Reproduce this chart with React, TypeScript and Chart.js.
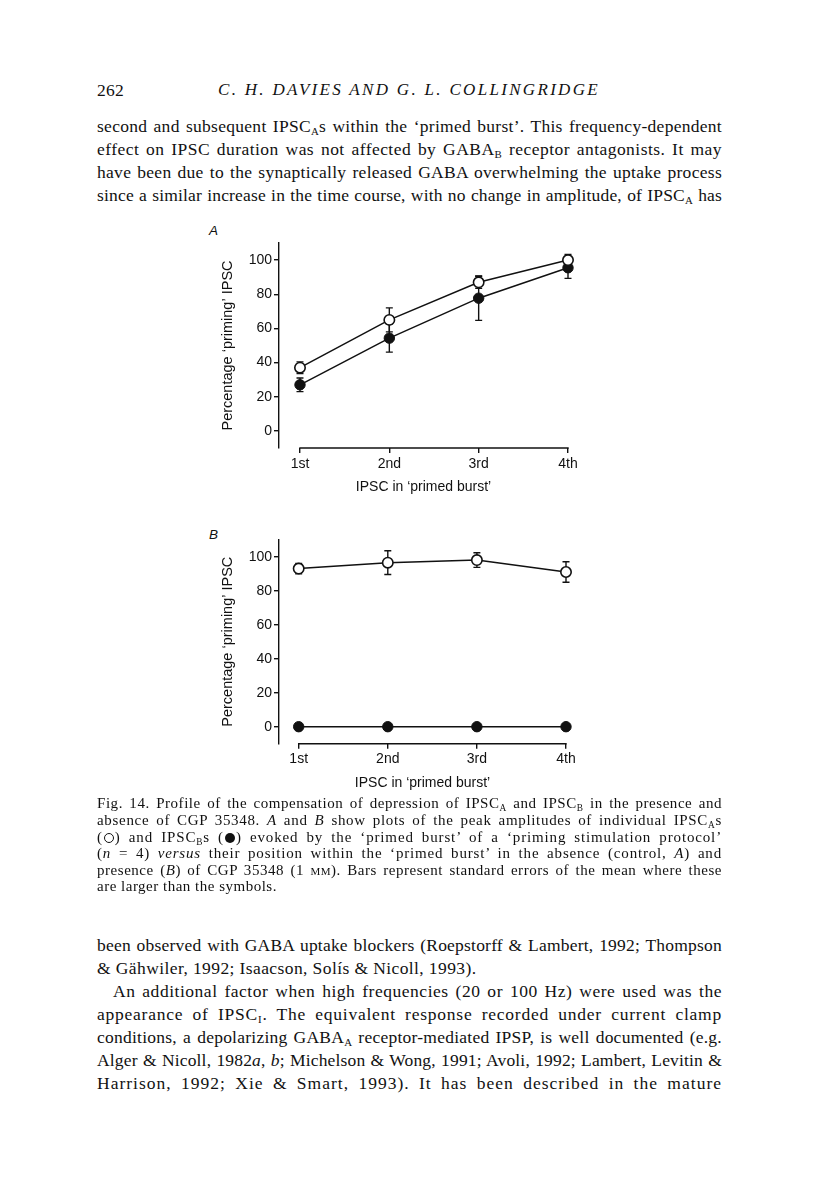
import React, { useEffect, useLayoutEffect, useRef } from "react";
import { Chart, registerables } from "chart.js";

Chart.register(...registerables);

// ---------- data ----------
const categories = ["1st", "2nd", "3rd", "4th"];
const yTickValues = [0, 20, 40, 60, 80, 100];

const panelAOpen = [37, 65, 87, 100];
const panelAOpenErr = [3.4, 7, 3.5, 3.3];
const panelAFilled = [27, 54.3, 77.7, 95.5];
const panelAFilledErr = [4, 8.2, 13, 6.2];

const panelBOpen = [93, 96.5, 98, 91];
const panelBOpenErr = [3, 7, 4.3, 6];
const panelBFilled = [0, 0, 0, 0];
const panelBFilledErr = [0, 0, 0, 0];

const yAxisTitle = "Percentage \u2018priming\u2019 IPSC";
const xAxisTitle = "IPSC in \u2018primed burst\u2019";

const SANS = "'Liberation Sans', Arial, Helvetica, sans-serif";
const SERIF = "'Liberation Serif', 'Times New Roman', serif";
const INK = "#111";

const errAxisPlugin = {
  id: "errAxis",
  beforeDatasetsDraw(chart: any) {
    const { ctx, chartArea } = chart;
    const x = chart.scales.x;
    const y = chart.scales.y;
    ctx.save();
    ctx.strokeStyle = INK;
    ctx.lineWidth = 1.4;
    const x0 = x.getPixelForValue(0);
    const x1 = x.getPixelForValue(categories.length - 1);
    ctx.beginPath();
    ctx.moveTo(x0 - 0.7, chartArea.bottom);
    ctx.lineTo(x1 + 0.7, chartArea.bottom);
    ctx.stroke();
    chart.data.datasets.forEach((ds: any) => {
      const errs = ds.errors;
      if (!errs) return;
      ds.data.forEach((p: any, i: number) => {
        const e = errs[i];
        if (!e) return;
        const px = x.getPixelForValue(p.x);
        const t = y.getPixelForValue(p.y + e);
        const b = y.getPixelForValue(p.y - e);
        ctx.beginPath();
        ctx.moveTo(px, t);
        ctx.lineTo(px, b);
        ctx.moveTo(px - 3.5, t);
        ctx.lineTo(px + 3.5, t);
        ctx.moveTo(px - 3.5, b);
        ctx.lineTo(px + 3.5, b);
        ctx.stroke();
      });
    });
    ctx.restore();
  },
};

type PanelProps = {
  left: number;
  top: number;
  width: number;
  height: number;
  areaLeft: number;
  areaTop: number;
  areaBottom: number;
  padRight: number;
  xMin: number;
  tickPad: number;
  open: number[];
  openErr: number[];
  filled: number[];
  filledErr: number[];
};

function Panel(props: PanelProps) {
  const ref = useRef<HTMLCanvasElement | null>(null);
  useEffect(() => {
    if (!ref.current) return;
    const toPts = (arr: number[]) => arr.map((v, i) => ({ x: i, y: v }));
    const chart = new Chart(ref.current, {
      type: "line",
      data: {
        datasets: [
          {
            data: toPts(props.open),
            errors: props.openErr,
            borderColor: INK,
            borderWidth: 1.5,
            pointRadius: 5.2,
            pointBorderWidth: 1.6,
            pointBackgroundColor: "#fff",
            pointBorderColor: INK,
            clip: false,
          } as any,
          {
            data: toPts(props.filled),
            errors: props.filledErr,
            borderColor: INK,
            borderWidth: 1.5,
            pointRadius: 5.2,
            pointBorderWidth: 1,
            pointBackgroundColor: INK,
            pointBorderColor: INK,
            clip: false,
          } as any,
        ],
      },
      options: {
        animation: false,
        responsive: false,
        devicePixelRatio: 1,
        events: [],
        layout: { padding: { top: props.areaTop, right: props.padRight, left: 0, bottom: 0 } },
        plugins: { legend: { display: false }, tooltip: { enabled: false } },
        scales: {
          x: {
            type: "linear",
            min: props.xMin,
            max: categories.length - 1,
            afterBuildTicks: (s: any) => {
              s.ticks = categories.map((_, i) => ({ value: i }));
            },
            afterFit: (s: any) => {
              s.height = props.height - props.areaBottom;
            },
            ticks: {
              callback: (v: any) => categories[v as number] ?? "",
              font: { family: SANS, size: 14 },
              color: INK,
              padding: props.tickPad,
              maxRotation: 0,
              autoSkip: false,
            },
            grid: { drawOnChartArea: false, drawTicks: true, tickLength: 5, color: INK, lineWidth: 1.4 },
            border: { display: false },
            title: {
              display: true,
              text: xAxisTitle,
              font: { family: SANS, size: 14 },
              color: INK,
              padding: { top: 0, bottom: 14.6 },
            },
          },
          y: {
            type: "linear",
            min: -10,
            max: 110,
            afterBuildTicks: (s: any) => {
              s.ticks = yTickValues.map((v) => ({ value: v }));
            },
            afterFit: (s: any) => {
              s.width = props.areaLeft;
            },
            ticks: { font: { family: SANS, size: 14 }, color: INK, padding: 2 },
            grid: { drawOnChartArea: false, drawTicks: true, tickLength: 5, color: INK, lineWidth: 1.4 },
            border: { display: true, color: INK, width: 1.4 },
            title: {
              display: true,
              text: yAxisTitle,
              font: { family: SANS, size: 14.5 },
              color: INK,
              padding: { top: 29.3, bottom: 0 },
            },
          },
        },
      } as any,
      plugins: [errAxisPlugin],
    });
    return () => chart.destroy();
  }, []);
  return (
    <canvas
      ref={ref}
      width={props.width}
      height={props.height}
      style={{ position: "absolute", left: props.left, top: props.top, width: props.width, height: props.height }}
    />
  );
}

const Sub = ({ children }: { children: React.ReactNode }) => (
  <sub style={{ fontSize: "0.62em", verticalAlign: "-0.28em", lineHeight: 0 }}>{children}</sub>
);
const SC = ({ children }: { children: React.ReactNode }) => (
  <span style={{ fontVariant: "small-caps" }}>{children}</span>
);
const OpenDot = () => (
  <span
    style={{
      display: "inline-block",
      width: 10,
      height: 10,
      boxSizing: "border-box",
      border: "1.3px solid #111",
      borderRadius: "50%",
      verticalAlign: "-1px",
      margin: "0 1px",
    }}
  />
);
const FilledDot = () => (
  <span
    style={{
      display: "inline-block",
      width: 10,
      height: 10,
      background: "#111",
      borderRadius: "50%",
      verticalAlign: "-1px",
      margin: "0 1px",
    }}
  />
);

type LineProps = {
  center: number;
  size: number;
  lh: number;
  justify?: boolean;
  indent?: number;
  left?: number;
  width?: number;
  fill?: number;
  fixedLs?: number;
  italic?: boolean;
  children: React.ReactNode;
};

function TextLine({
  center,
  size,
  lh,
  justify = true,
  indent = 0,
  left = 97,
  width = 625,
  fill = 0.6,
  fixedLs,
  italic = false,
  children,
}: LineProps) {
  const ref = useRef<HTMLDivElement | null>(null);
  const inner = useRef<HTMLSpanElement | null>(null);
  useLayoutEffect(() => {
    const el = ref.current;
    const sp = inner.current;
    if (!el || !sp) return;
    if (fixedLs !== undefined) {
      sp.style.letterSpacing = fixedLs + "px";
      return;
    }
    el.style.textAlign = "left";
    (el.style as any).textAlignLast = "left";
    sp.style.whiteSpace = "nowrap";
    sp.style.letterSpacing = "0px";
    const w = sp.getBoundingClientRect().width;
    const n = (sp.textContent || "").length || 1;
    let ls = ((width - indent - w) * fill) / n;
    ls = Math.max(-0.8, Math.min(2.5, ls));
    sp.style.letterSpacing = ls + "px";
    sp.style.whiteSpace = "normal";
    if (justify) {
      el.style.textAlign = "justify";
      (el.style as any).textAlignLast = "justify";
    }
  }, []);
  return (
    <div
      ref={ref}
      style={{
        position: "absolute",
        left,
        top: center - lh / 2,
        width,
        height: lh,
        fontSize: size,
        lineHeight: `${lh}px`,
        textAlign: justify ? "justify" : "left",
        textAlignLast: justify ? "justify" : "left",
        textIndent: indent,
        color: INK,
        fontFamily: SERIF,
        fontStyle: italic ? "italic" : "normal",
      } as any}
    >
      <span ref={inner}>{children}</span>
    </div>
  );
}

export default function App() {
  const B = 17.5;
  const C = 15;
  return (
    <div
      style={{
        position: "absolute",
        left: 0,
        top: 0,
        width: 816,
        height: 1183,
        background: "#fff",
        overflow: "hidden",
        fontFamily: SERIF,
        color: INK,
      }}
    >
      {/* running head */}
      <TextLine center={90} size={17.5} lh={22} justify={false} fixedLs={0.3}>
        262
      </TextLine>
      <TextLine center={90} size={17} lh={22} left={218} width={382} justify={false} fill={1} italic>
        C. H. DAVIES AND G. L. COLLINGRIDGE
      </TextLine>

      {/* top paragraph */}
      <TextLine center={126} size={B} lh={23}>
        second and subsequent IPSC<Sub>A</Sub>s within the {"\u2018"}primed burst{"\u2019"}. This frequency-dependent
      </TextLine>
      <TextLine center={149} size={B} lh={23}>
        effect on IPSC duration was not affected by GABA<Sub>B</Sub> receptor antagonists. It may
      </TextLine>
      <TextLine center={172} size={B} lh={23}>
        have been due to the synaptically released GABA overwhelming the uptake process
      </TextLine>
      <TextLine center={195} size={B} lh={23}>
        since a similar increase in the time course, with no change in amplitude, of IPSC<Sub>A</Sub> has
      </TextLine>

      {/* panel labels */}
      <div style={{ position: "absolute", left: 209, top: 223, fontFamily: SANS, fontStyle: "italic", fontSize: 13.5, lineHeight: "16px", color: INK }}>A</div>
      <div style={{ position: "absolute", left: 209, top: 527, fontFamily: SANS, fontStyle: "italic", fontSize: 13.5, lineHeight: "16px", color: INK }}>B</div>

      <Panel
        left={190}
        top={225}
        width={420}
        height={285}
        areaLeft={89}
        areaTop={18}
        areaBottom={223}
        padRight={42}
        xMin={-0.235}
        tickPad={3}
        open={panelAOpen}
        openErr={panelAOpenErr}
        filled={panelAFilled}
        filledErr={panelAFilledErr}
      />
      <Panel
        left={190}
        top={520}
        width={420}
        height={286}
        areaLeft={89}
        areaTop={19.7}
        areaBottom={223.7}
        padRight={44}
        xMin={-0.221}
        tickPad={2}
        open={panelBOpen}
        openErr={panelBOpenErr}
        filled={panelBFilled}
        filledErr={panelBFilledErr}
      />

      {/* caption */}
      <TextLine center={803} size={C} lh={16.6}>
        Fig. 14. Profile of the compensation of depression of IPSC<Sub>A</Sub> and IPSC<Sub>B</Sub> in the presence and
      </TextLine>
      <TextLine center={820} size={C} lh={16.6}>
        absence of CGP 35348. <i>A</i> and <i>B</i> show plots of the peak amplitudes of individual IPSC<Sub>A</Sub>s
      </TextLine>
      <TextLine center={837} size={C} lh={16.6}>
        (<OpenDot />) and IPSC<Sub>B</Sub>s (<FilledDot />) evoked by the {"\u2018"}primed burst{"\u2019"} of a {"\u2018"}priming stimulation protocol{"\u2019"}
      </TextLine>
      <TextLine center={853} size={C} lh={16.6}>
        (<i>n</i> = 4) <i>versus</i> their position within the {"\u2018"}primed burst{"\u2019"} in the absence (control, <i>A</i>) and
      </TextLine>
      <TextLine center={870} size={C} lh={16.6}>
        presence (<i>B</i>) of CGP 35348 (1 <SC>mm</SC>). Bars represent standard errors of the mean where these
      </TextLine>
      <TextLine center={886} size={C} lh={16.6} justify={false} fixedLs={0.5}>
        are larger than the symbols.
      </TextLine>

      {/* bottom paragraphs */}
      <TextLine center={945} size={B} lh={23}>
        been observed with GABA uptake blockers (Roepstorff &amp; Lambert, 1992; Thompson
      </TextLine>
      <TextLine center={968} size={B} lh={23} justify={false} fixedLs={0.4}>
        &amp; G{"\u00E4"}hwiler, 1992; Isaacson, Sol{"\u00ED"}s &amp; Nicoll, 1993).
      </TextLine>
      <TextLine center={991} size={B} lh={23} indent={16}>
        An additional factor when high frequencies (20 or 100 Hz) were used was the
      </TextLine>
      <TextLine center={1014} size={B} lh={23}>
        appearance of IPSC<Sub>I</Sub>. The equivalent response recorded under current clamp
      </TextLine>
      <TextLine center={1037} size={B} lh={23}>
        conditions, a depolarizing GABA<Sub>A</Sub> receptor-mediated IPSP, is well documented (e.g.
      </TextLine>
      <TextLine center={1060} size={B} lh={23}>
        Alger &amp; Nicoll, 1982<i>a</i>, <i>b</i>; Michelson &amp; Wong, 1991; Avoli, 1992; Lambert, Levitin &amp;
      </TextLine>
      <TextLine center={1083} size={B} lh={23}>
        Harrison, 1992; Xie &amp; Smart, 1993). It has been described in the mature
      </TextLine>
    </div>
  );
}
